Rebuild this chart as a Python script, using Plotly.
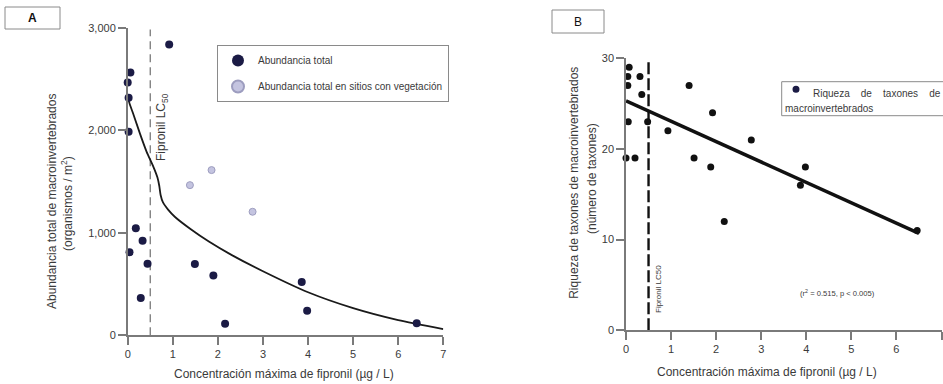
import plotly.graph_objects as go

W, H = 943, 384

# ---------------- Panel A data ----------------
conc_total = [0.92, 0.06, 0.00, 0.02, 0.02, 0.04, 0.18, 0.33, 0.44, 0.29, 1.49, 1.90, 2.16, 3.86, 3.98, 6.41]
abund_total = [2840, 2566, 2468, 2318, 1986, 810, 1044, 923, 699, 364, 696, 585, 113, 520, 240, 117]
conc_veg = [1.38, 1.86, 2.77]
abund_veg = [1466, 1613, 1206]
fit_conc = [0.0, 0.05, 0.12, 0.27, 0.42, 0.57, 0.66, 0.70, 0.73, 0.78, 0.90, 1.05, 1.4, 1.8, 2.3, 3.0, 4.0, 5.0, 6.0, 7.0]
fit_abund = [2330, 2250, 2166, 1971, 1791, 1645, 1540, 1460, 1370, 1300, 1225, 1155, 1035, 915, 785, 625, 420, 265, 148, 60]
lc50 = 0.5
lc50_top_A = 2985
ticks_A_x = [0, 1, 2, 3, 4, 5, 6, 7]
ticks_A_y = [0, 1000, 2000, 3000]

# ---------------- Panel B data ----------------
conc_B = [0.07, 0.04, 0.04, 0.31, 0.35, 0.05, 0.48, 0.00, 0.20, 0.93, 1.40, 1.51, 1.92, 1.88, 2.78, 3.98, 3.87, 2.18, 6.46]
rich_B = [29, 28, 27, 28, 26, 23, 23, 19, 19, 22, 27, 19, 24, 18, 21, 18, 16, 12, 11]
reg_conc = [0.0, 6.5]
reg_rich = [25.3, 10.7]
lc50_top_B = 29.6
ticks_B_x = [0, 1, 2, 3, 4, 5, 6, 7]
ticks_B_y = [0, 10, 20, 30]

FONT = "Liberation Sans, Arial, sans-serif"
NAVY = "#1b1b45"
AXC = "#7a7a7a"
TXT = "#3a3a3a"


def px(x):
    return x / W


def py(y):
    return 1 - y / H


fig = go.Figure()

# Panel A traces
fig.add_trace(go.Scatter(x=[lc50, lc50], y=[0, lc50_top_A], mode="lines",
                         line=dict(color="#6e6e6e", width=1.2, dash="8px,5px"),
                         showlegend=False, hoverinfo="skip", xaxis="x", yaxis="y"))
fig.add_trace(go.Scatter(x=fit_conc, y=fit_abund, mode="lines",
                         line=dict(color="#1a1a1a", width=1.8, shape="spline", smoothing=0.6),
                         showlegend=False, xaxis="x", yaxis="y"))
fig.add_trace(go.Scatter(x=conc_total, y=abund_total, mode="markers", name="Abundancia total",
                         marker=dict(color=NAVY, size=8, line=dict(width=0)),
                         cliponaxis=False, legendgroup="a", xaxis="x", yaxis="y"))
fig.add_trace(go.Scatter(x=conc_veg, y=abund_veg, mode="markers",
                         name="Abundancia total en sitios con vegetación",
                         marker=dict(color="#c4c4e0", size=7, line=dict(color="#9d9dbf", width=1)),
                         cliponaxis=False, legendgroup="b", xaxis="x", yaxis="y"))

# Panel B traces
fig.add_trace(go.Scatter(x=[lc50, lc50], y=[0, lc50_top_B], mode="lines",
                         line=dict(color="#111111", width=2.4, dash="12px,4px"),
                         showlegend=False, hoverinfo="skip", xaxis="x2", yaxis="y2"))
fig.add_trace(go.Scatter(x=reg_conc, y=reg_rich, mode="lines",
                         line=dict(color="#111111", width=3.5),
                         showlegend=False, xaxis="x2", yaxis="y2"))
fig.add_trace(go.Scatter(x=conc_B, y=rich_B, mode="markers",
                         name="Riqueza de taxones de macroinvertebrados",
                         marker=dict(color="#111111", size=7),
                         cliponaxis=False, showlegend=False, xaxis="x2", yaxis="y2"))

axis_common = dict(showline=True, linecolor=AXC, linewidth=1.5, ticks="outside",
                   tickcolor=AXC, tickwidth=1.5, ticklen=8, showgrid=False, zeroline=False,
                   tickfont=dict(family=FONT, size=11, color=TXT), fixedrange=True,
                   automargin=False)

fig.update_layout(
    width=W, height=H, autosize=False,
    margin=dict(l=0, r=0, t=0, b=0, pad=0, autoexpand=False),
    paper_bgcolor="white", plot_bgcolor="white",
    font=dict(family=FONT, color=TXT),
    xaxis=dict(domain=[px(127.7), px(443.3)], range=[0, 7], tickvals=ticks_A_x,
               anchor="y", **axis_common),
    yaxis=dict(domain=[py(335.3), py(28)], range=[0, 3000], tickvals=ticks_A_y,
               tickformat=",d", anchor="x", **axis_common),
    xaxis2=dict(domain=[px(626), px(941.5)], range=[0, 7], tickvals=ticks_B_x,
                anchor="y2", **axis_common),
    yaxis2=dict(domain=[py(330.3), py(58.3)], range=[0, 30], tickvals=ticks_B_y,
                anchor="x2", **axis_common),
    legend=dict(x=px(217), y=py(45), xanchor="left", yanchor="top",
                bordercolor="#8a8a8a", borderwidth=1, bgcolor="white",
                font=dict(family=FONT, size=10, color=TXT),
                traceorder="grouped", tracegroupgap=7, itemsizing="constant"),
    showlegend=True,
)

ann = []
# Panel labels
ann.append(dict(x=px(32.5), y=py(18), text="<b>A</b>",
                font=dict(family=FONT, size=12, color="#111")))
ann.append(dict(x=px(578), y=py(21.5), text="B",
                font=dict(family=FONT, size=12, color="#111")))
# Axis titles A
ann.append(dict(x=px(52), y=py(202), text="Abundancia total de macroinvertebrados",
                textangle=-90, font=dict(family=FONT, size=12, color=TXT)))
ann.append(dict(x=px(67), y=py(204), text="(organismos / m<sup>2</sup>)",
                textangle=-90, font=dict(family=FONT, size=12, color=TXT)))
ann.append(dict(x=px(284), y=py(373.7), text="Concentración máxima de fipronil (µg / L)",
                font=dict(family=FONT, size=12, color=TXT)))
# Axis titles B
ann.append(dict(x=px(573.3), y=py(182.5), text="Riqueza de taxones de macroinvertebrados",
                textangle=-90, font=dict(family=FONT, size=12, color=TXT)))
ann.append(dict(x=px(592), y=py(179), text="(número de taxones)",
                textangle=-90, font=dict(family=FONT, size=12, color=TXT)))
ann.append(dict(x=px(766.7), y=py(372), text="Concentración máxima de fipronil (µg / L)",
                font=dict(family=FONT, size=12, color=TXT)))
# LC50 labels
ann.append(dict(x=px(162), y=py(127), text="Fipronil LC<sub>50</sub>",
                textangle=-90, font=dict(family=FONT, size=12, color=TXT)))
ann.append(dict(x=px(658), y=py(289), text="Fipronil LC50",
                textangle=-90, font=dict(family=FONT, size=8, color=TXT)))
# Regression stats
ann.append(dict(x=px(837), y=py(293), text="(r<sup>2</sup> = 0.515, p &lt; 0.005)",
                font=dict(family=FONT, size=7.6, color=TXT)))
# Legend B text
nb = "\u00a0"
ann.append(dict(x=px(810.5), y=py(93.3), xanchor="left",
                text="Riqueza" + nb * 4 + "de" + nb * 4 + "taxones" + nb * 4 + "de",
                font=dict(family=FONT, size=10, color=TXT)))
ann.append(dict(x=px(783), y=py(108.5), xanchor="left", text="macroinvertebrados",
                font=dict(family=FONT, size=10, color=TXT)))
for a in ann:
    a.setdefault("xref", "paper")
    a.setdefault("yref", "paper")
    a.setdefault("xanchor", "center")
    a.setdefault("yanchor", "middle")
    a.setdefault("showarrow", False)
fig.update_layout(annotations=ann)

shapes = [
    dict(type="rect", xref="paper", yref="paper", x0=px(5), x1=px(60), y0=py(29), y1=py(7),
         line=dict(color="#8a8a8a", width=1), fillcolor="rgba(0,0,0,0)"),
    dict(type="rect", xref="paper", yref="paper", x0=px(552), x1=px(604), y0=py(33), y1=py(10),
         line=dict(color="#8a8a8a", width=1), fillcolor="rgba(0,0,0,0)"),
    dict(type="rect", xref="paper", yref="paper", x0=px(781.7), x1=px(960), y0=py(115.7), y1=py(81.7),
         line=dict(color="#8a8a8a", width=1), fillcolor="rgba(0,0,0,0)"),
    dict(type="circle", xref="paper", yref="paper", x0=px(792.5), x1=px(799.5), y0=py(92.8), y1=py(85.8),
         line=dict(color=NAVY, width=0), fillcolor=NAVY),
]
fig.update_layout(shapes=shapes)

fig.write_html("out.html", config={"displayModeBar": False},
               post_script="document.body.style.margin='0';")
